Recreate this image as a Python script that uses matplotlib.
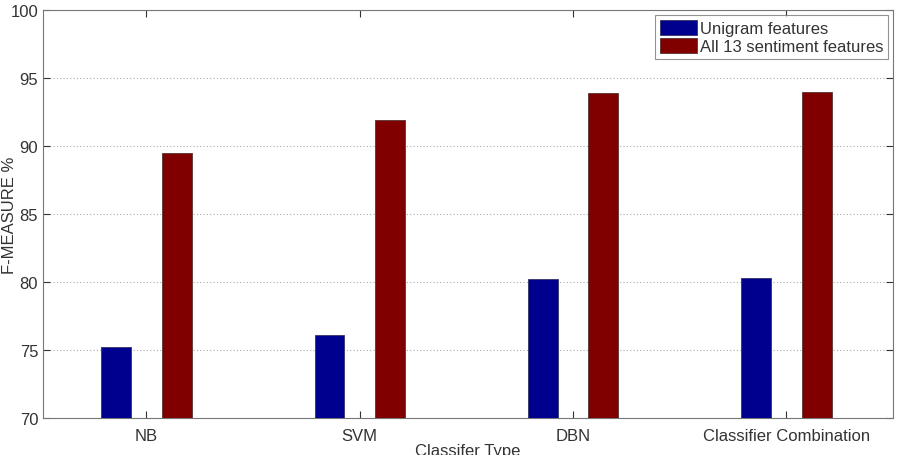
import matplotlib.pyplot as plt
import numpy as np

plt.rcParams['font.family'] = ['Liberation Sans', 'DejaVu Sans']

classifiers = ['NB', 'SVM', 'DBN', 'Classifier Combination']
unigram = [75.2, 76.1, 80.2, 80.3]
all13 = [89.5, 91.9, 93.9, 94.0]
series_names = ['Unigram features', 'All 13 sentiment features']

fig = plt.figure(figsize=(9.09, 4.56), dpi=100)
ax = fig.add_axes([0.0473, 0.0811, 0.9351, 0.8948])

x = np.arange(1, len(classifiers) + 1)
w = 0.14
ax.bar(x - 0.142, unigram, w, color='#00008f', edgecolor='#333366', linewidth=0.6,
       label=series_names[0], zorder=3)
ax.bar(x + 0.142, all13, w, color='#800000', edgecolor='#553333', linewidth=0.6,
       label=series_names[1], zorder=3)

ax.set_xlim(0.515, 4.5)
ax.set_ylim(70, 100)
ax.set_yticks(range(70, 101, 5))
ax.set_xticks(x)
ax.set_xticklabels(classifiers)
ax.grid(axis='y', linestyle=(0, (1, 2)), color='#aaaaaa', linewidth=0.8, zorder=0)
ax.tick_params(direction='in', top=True, right=True, labelsize=12,
               colors='#333333', length=5, width=0.8)
ax.tick_params(axis='x', pad=7)
for s in ax.spines.values():
    s.set_color('#777777')

ax.set_xlabel('Classifer Type', fontsize=12, color='#333333')
ax.set_ylabel('F-MEASURE %', fontsize=12, color='#333333')
ax.xaxis.set_label_coords(0.5, -0.062)
ax.yaxis.set_label_coords(-0.030, 0.5)

leg = ax.legend(loc='upper right', fontsize=12, frameon=True, fancybox=False,
                borderaxespad=0.3, handlelength=2.2, handleheight=1.0,
                handletextpad=0.15, labelspacing=0.1, borderpad=0.3)
leg.get_frame().set_edgecolor('#777777')
leg.get_frame().set_linewidth(0.8)
for t in leg.get_texts():
    t.set_color('#333333')

fig.savefig('out.png', dpi=100)
